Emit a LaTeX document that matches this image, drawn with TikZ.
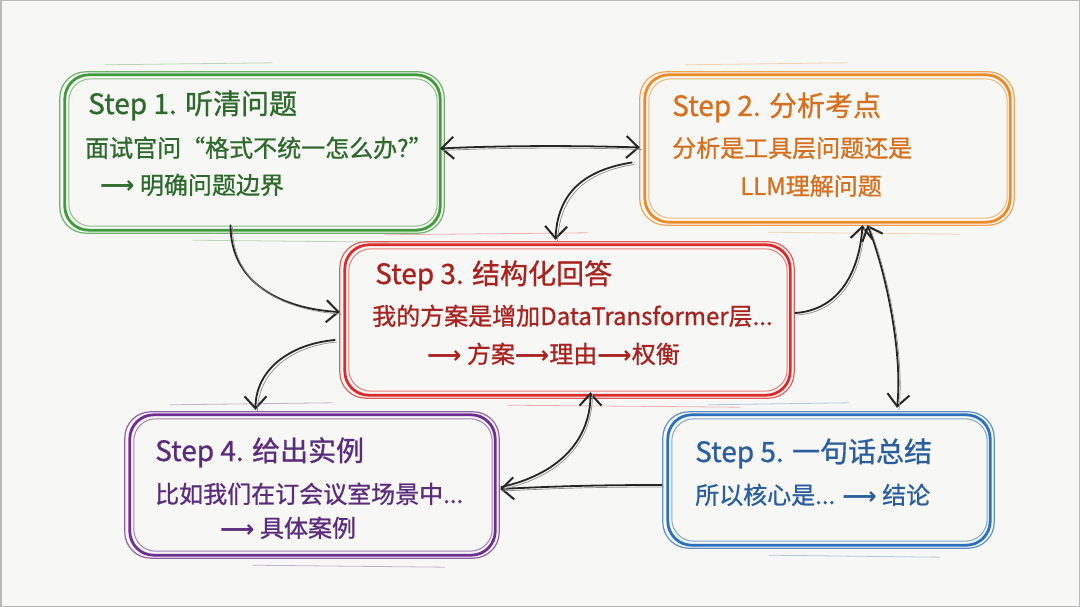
\documentclass[tikz,border=0pt]{standalone}
\usepackage{fontspec}
\setmainfont{Noto Sans CJK SC}[BoldFont={Noto Sans CJK SC},BoldFeatures={FakeBold=0.9}]
\newfontfamily\arwfont{DejaVu Sans}
\usetikzlibrary{arrows.meta,calc}
\definecolor{bg}{HTML}{F7F7F5}
\definecolor{cg}{HTML}{3F9A3C}
\definecolor{tg}{HTML}{2E6A2C}
\definecolor{co}{HTML}{EC8A25}
\definecolor{to}{HTML}{D7701E}
\definecolor{cr}{HTML}{D92B2B}
\definecolor{tr}{HTML}{A8231F}
\definecolor{cp}{HTML}{6E2E92}
\definecolor{tp}{HTML}{5B2C7C}
\definecolor{cb}{HTML}{2B70B8}
\definecolor{tb}{HTML}{2A5E9E}
\newcommand\arw{{\arwfont ⟶}}
\tikzset{
  box/.style={draw=none, inner sep=0pt, rectangle},
  title/.style={anchor=base west, font=\fontsize{28}{30}\selectfont\bfseries, inner sep=0pt},
  body/.style={anchor=base west, font=\fontsize{24}{26}\selectfont\bfseries, inner sep=0pt},
  sk/.tip={Straight Barb[length=12pt,width=22pt,line width=2pt]},
  conn/.style={draw=black!85, line width=1.8pt, line cap=round},
  ghost/.style={draw=black!45, line width=0.7pt, transform canvas={xshift=2pt,yshift=-2pt}},
}
\newcommand\sketchbox[2]{%
  \draw[#2, line width=2.8pt, rounded corners=24pt] (#1.north west) rectangle (#1.south east);
  \draw[#2, line width=1.2pt, opacity=.75, rounded corners=26pt] ($(#1.north west)+(-5,-3)$) rectangle ($(#1.south east)+(4,3)$);
  \draw[#2, line width=1pt, opacity=.6, rounded corners=22pt] ($(#1.north west)+(4,4)$) rectangle ($(#1.south east)+(-3,-4)$);
  \draw[#2, line width=0.8pt, opacity=.35] ($(#1.north west)+(40,-10)$) -- ($(#1.north)+(20,-12)$);
  \draw[#2, line width=0.8pt, opacity=.35] ($(#1.south)+(-60,10)$) -- ($(#1.south east)+(-50,12)$);
}
\newcommand\skarrow[2]{\draw[conn,#1] #2; \draw[ghost] #2;}
\begin{document}
\begin{tikzpicture}[x=1pt,y=-1pt]
\fill[bg] (0,0) rectangle (1080,607);
\draw[gray!55, line width=1.5pt] (0.75,0.75) rectangle (1079.25,606.25);
\useasboundingbox (0,0) rectangle (1080,607);

% boxes
\node[box, minimum width=375pt, minimum height=155pt] (s1) at (252.5,152.5) {};
\node[box, minimum width=365pt, minimum height=147pt] (s2) at (827.5,148.5) {};
\node[box, minimum width=445pt, minimum height=150pt] (s3) at (567.5,320) {};
\node[box, minimum width=365pt, minimum height=140pt] (s4) at (312.5,485) {};
\node[box, minimum width=322pt, minimum height=130pt] (s5) at (829,480) {};
\sketchbox{s1}{cg}
\sketchbox{s2}{co}
\sketchbox{s3}{cr}
\sketchbox{s4}{cp}
\sketchbox{s5}{cb}

% texts
\node[title, text=tg] (t1a) at (88,114) {Step 1. 听清问题};
\node[body, text=tg] (t1b) at (85,157) {面试官问“格式不统一怎么办?”};
\node[body, text=tg] (t1c) at (100,194) {\arw\ 明确问题边界};

\node[title, text=to] (t2a) at (672,116) {Step 2. 分析考点};
\node[body, text=to] (t2b) at (672,157) {分析是工具层问题还是};
\node[body, text=to] (t2c) at (740,195) {LLM理解问题};

\node[title, text=tr] (t3a) at (375,284) {Step 3. 结构化回答};
\node[body, text=tr] (t3b) at (372,325) {我的方案是增加DataTransformer层...};
\node[body, text=tr] (t3c) at (427,363) {\arw\ 方案\arw 理由\arw 权衡};

\node[title, text=tp] (t4a) at (155,461) {Step 4. 给出实例};
\node[body, text=tp] (t4b) at (155,503) {比如我们在订会议室场景中...};
\node[body, text=tp] (t4c) at (220,537) {\arw\ 具体案例};

\node[title, text=tb] (t5a) at (695,462) {Step 5. 一句话总结};
\node[body, text=tb] (t5b) at (695,504) {所以核心是... \arw\ 结论};

% connectors
\skarrow{sk-sk}{($(s1.east)+(0,-4)$) .. controls +(60,-3) and +(-60,-2) .. ($(s2.west)+(-5,-1)$)}
\skarrow{-sk}{($(s2.west)+(-13,14)$) .. controls +(-50,8) and +(2,-45) .. ($(s3.north)+(-12,-5)$)}
\skarrow{-sk}{($(s1.south)+(-22,-5)$) .. controls +(0,60) and +(-55,-3) .. ($(s3.west)+(-5,-8)$)}
\skarrow{-sk}{($(s3.east)+(5,-7)$) .. controls +(45,-3) and +(-3,45) .. ($(s2.south)+(35,3)$)}
\skarrow{sk-sk}{($(s2.south)+(40,3)$) .. controls +(18,45) and +(6,-55) .. ($(s5.north)+(68,-7)$)}
\skarrow{-sk}{($(s3.west)+(-10,20)$) .. controls +(-45,4) and +(0,-40) .. ($(s4.north)+(-57,-5)$)}
\skarrow{-sk}{($(s5.west)+(-6,5)$) .. controls +(-60,0) and +(60,-3) .. ($(s4.east)+(5,4)$)}
\skarrow{-sk}{($(s4.east)+(6,2)$) .. controls +(55,-12) and +(0,50) .. ($(s3.south)+(23,-3)$)}
\end{tikzpicture}
\end{document}
